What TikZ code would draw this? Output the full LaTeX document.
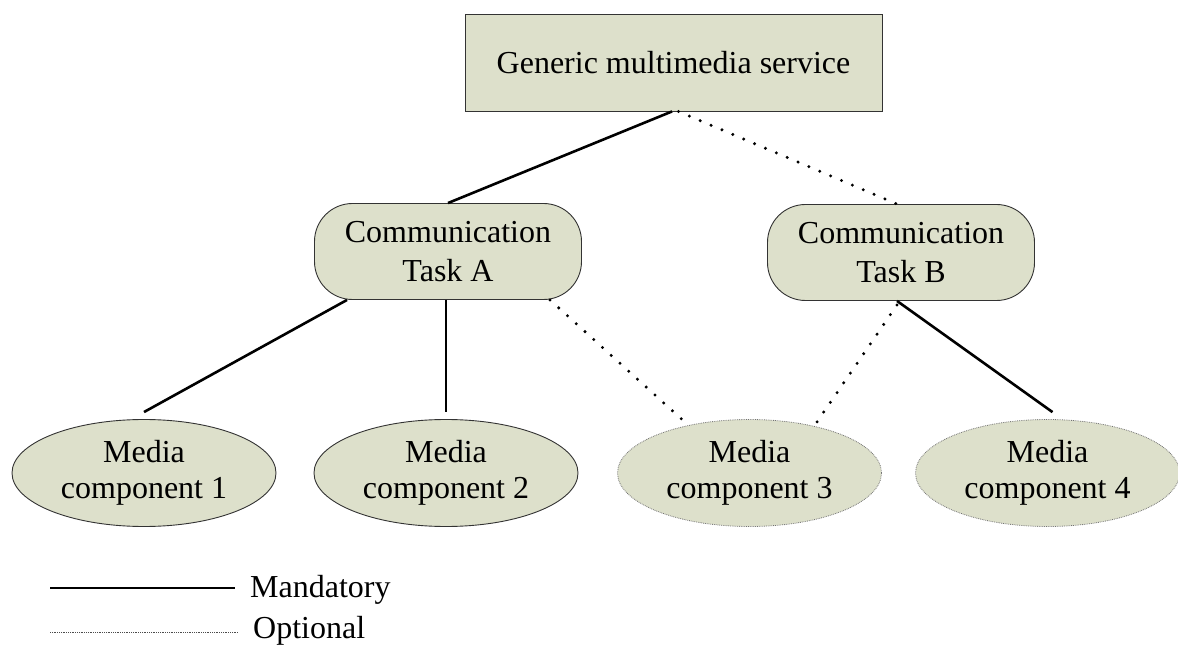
\documentclass[tikz,border=0pt]{standalone}
\usepackage{fontspec}
\setmainfont{Liberation Serif}
\usetikzlibrary{shapes.geometric,calc}
\definecolor{boxfill}{RGB}{221,224,203}
\begin{document}
\begin{tikzpicture}[x=1pt,y=1pt,
  font=\fontsize{32}{38.5}\selectfont,
  servicebox/.style={draw=black!80, line width=0.9pt, fill=boxfill, rectangle,
    minimum width=417pt, minimum height=97pt, inner sep=0pt},
  taskbox/.style={draw=black!80, line width=0.9pt, fill=boxfill, rectangle,
    rounded corners=38pt, minimum width=267pt, minimum height=96pt,
    inner sep=0pt, align=center},
  mediafull/.style={draw=black!80, line width=0.9pt, fill=boxfill, ellipse,
    minimum width=264pt, minimum height=107pt, inner sep=0pt, align=center},
  mediaopt/.style={draw=black!55, line width=0.8pt, densely dotted, fill=boxfill,
    ellipse, minimum width=264pt, minimum height=107pt, inner sep=0pt, align=center},
  mand/.style={line width=2.6pt},
  opt/.style={line width=3.3pt, dash pattern=on 0pt off 11.8pt, line cap=round},
  legmand/.style={line width=1.3pt},
  legopt/.style={line width=0.9pt, black!70, dash pattern=on 0.9pt off 0.9pt},
  lbl/.style={anchor=west, inner sep=0pt}]
\useasboundingbox (0,0) rectangle (1178,646);

% hierarchy
\node[servicebox] (top) at (673.5,583.5) {Generic multimedia service};
\node[taskbox] (taska) at (448,394.5) {Communication\\Task A};
\node[taskbox] (taskb) at (901,393.5) {Communication\\Task B};
\node[mediafull] (m1) at (144,173) {\raisebox{-2pt}{Media}\\component 1};
\node[mediafull] (m2) at (446,173) {\raisebox{-2pt}{Media}\\component 2};
\node[mediaopt]  (m3) at (749.5,173) {\raisebox{-2pt}{Media}\\component 3};
\node[mediaopt]  (m4) at (1047.5,173) {\raisebox{-2pt}{Media}\\component 4};

% mandatory links
\draw[mand] ([xshift=-1.5pt]top.south) -- (taska.north);
\draw[mand] ([xshift=-101pt]taska.south) -- ([yshift=7pt]m1.north);
\draw[mand] ([xshift=-2pt]taska.south) -- ([yshift=7pt]m2.north);
\draw[mand] ([xshift=-4pt]taskb.south) -- ([xshift=5pt,yshift=7pt]m4.north);

% optional links
\draw[opt] ([xshift=5pt]top.south) -- ([xshift=-4pt]taskb.north);
\draw[opt] ([xshift=102pt]taska.south) -- (m3.142);
\draw[opt] ([xshift=-4pt,yshift=-4pt]taskb.south) -- (m3.36);

% legend
\node[lbl] (mandlbl) at (250,56) {Mandatory};
\node[lbl] (optlbl) at (253,15) {Optional};
\coordinate (mandstart) at (50,58);
\coordinate (optstart) at (50,14);
\draw[legmand] (mandstart) -- ([xshift=-15pt,yshift=2pt]mandlbl.west);
\draw[legopt] (optstart) -- ([xshift=-15pt,yshift=-1pt]optlbl.west);
\end{tikzpicture}
\end{document}
